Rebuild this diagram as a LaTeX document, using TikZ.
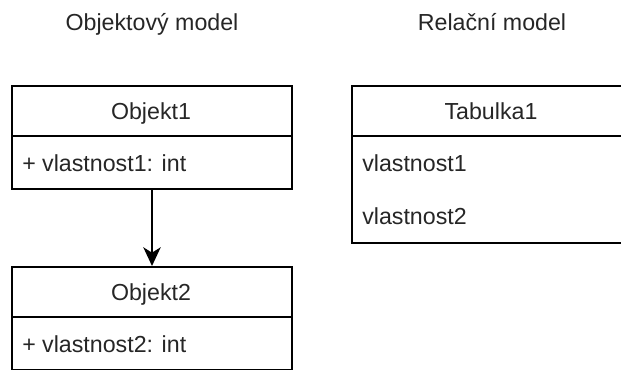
\documentclass[tikz,border=0pt]{standalone}
\usepackage{fontspec}
\setmainfont{Liberation Sans}
\usetikzlibrary{arrows.meta}
\begin{document}
\begin{tikzpicture}[x=0.75pt,y=-0.75pt,
  font=\fontsize{17.4}{20}\selectfont,
  boxline/.style={draw=black,line width=1.5pt},
  lbl/.style={inner sep=0pt,anchor=base,text=black!85},
  lbll/.style={inner sep=0pt,anchor=base west,text=black!85},
  link/.style={line width=1.5pt,-{Stealth[length=14pt,width=13pt,inset=4pt]}}]
\useasboundingbox (0,0) rectangle (621,370);
\clip (0,0) rectangle (621,370);

% section titles
\node[lbl] (t1) at (152,31) {Objektový model};
\node[lbl] (t2) at (492,31) {Relační model};

% class Objekt1
\node[boxline,minimum width=280*0.75pt,minimum height=103*0.75pt,anchor=north west,inner sep=0pt] (o1) at (11,85) {};
\draw[boxline] (11,136.5) -- (291,136.5);
\node[lbl] (o1h) at (151,120) {Objekt1};
\node[lbll] (o1a) at (22,172) {+ vlastnost1: int};

% class Objekt2
\node[boxline,minimum width=280*0.75pt,minimum height=102.5*0.75pt,anchor=north west,inner sep=0pt] (o2) at (11,266) {};
\draw[boxline] (11,317) -- (291,317);
\node[lbl] (o2h) at (151,300.5) {Objekt2};
\node[lbll] (o2a) at (22,352) {+ vlastnost2: int};

% table Tabulka1
\node[boxline,minimum width=280*0.75pt,minimum height=157*0.75pt,anchor=north west,inner sep=0pt] (tb) at (351,85) {};
\draw[boxline] (351,136.5) -- (631,136.5);
\node[lbl] (tbh) at (491,120) {Tabulka1};
\node[lbll] (tba) at (362,172) {vlastnost1};
\node[lbll] (tbb) at (362,225) {vlastnost2};

% association
\draw[link] (o1.south) -- (o2.north);
\end{tikzpicture}
\end{document}
